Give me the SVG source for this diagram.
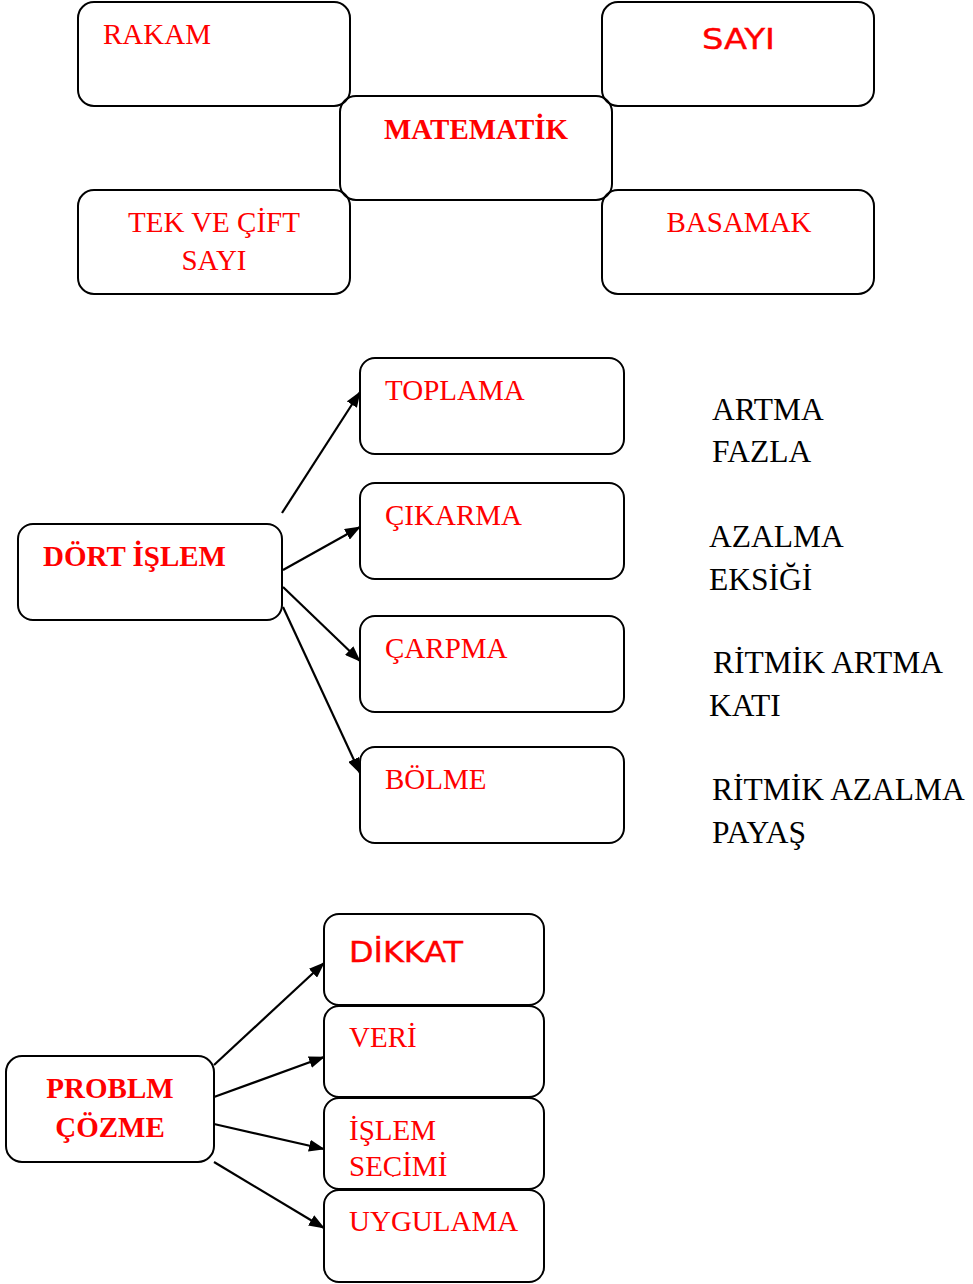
<svg xmlns="http://www.w3.org/2000/svg" width="973" height="1284" viewBox="0 0 973 1284">
<defs>
<style>
.box{fill:none;stroke:#000;stroke-width:2}
.t{font-family:"Liberation Serif","Times New Roman",serif;font-size:29px;fill:#ff0000}
.b{font-weight:bold}
.c{font-family:"DejaVu Sans","Noto Sans",sans-serif;font-size:28px;fill:#ff0000;stroke:#ff0000;stroke-width:0.4}
.k{font-family:"Liberation Serif","Times New Roman",serif;font-size:31.5px;fill:#000}
.ln{stroke:#000;stroke-width:2.2;fill:none;marker-end:url(#ah)}
</style>
<marker id="ah" viewBox="0 0 16 12" refX="15" refY="6" markerWidth="16" markerHeight="12" markerUnits="userSpaceOnUse" orient="auto">
<path d="M0,0 L16,6 L0,12 z" fill="#000"/>
</marker>
<clipPath id="clipSec"><rect x="324" y="1098" width="220" height="79"/></clipPath>
</defs>
<rect width="973" height="1284" fill="#fff"/>

<g id="rakam"><rect class="box" x="78" y="2" width="272" height="104" rx="16"/><text class="t" x="103" y="44">RAKAM</text></g>
<g id="sayi"><rect class="box" x="602" y="2" width="272" height="104" rx="16"/><text class="c" x="702" y="49" textLength="73" lengthAdjust="spacingAndGlyphs">SAYI</text></g>
<g id="tekcift"><rect class="box" x="78" y="190" width="272" height="104" rx="16"/><text class="t" x="214" y="232" text-anchor="middle">TEK VE ÇİFT</text><text class="t" x="214" y="270" text-anchor="middle">SAYI</text></g>
<g id="basamak"><rect class="box" x="602" y="190" width="272" height="104" rx="16"/><text class="t" x="739" y="232" text-anchor="middle">BASAMAK</text></g>
<g id="matematik"><rect class="box" x="340" y="96" width="272" height="104" rx="16"/><text class="t b" x="476" y="139" text-anchor="middle">MATEMATİK</text></g>

<g id="dortislem"><rect class="box" x="18" y="524" width="264" height="96" rx="15"/><text class="t b" x="43" y="566">DÖRT İŞLEM</text></g>
<g id="toplama"><rect class="box" x="360" y="358" width="264" height="96" rx="15"/><text class="t" x="385" y="400">TOPLAMA</text></g>
<g id="cikarma"><rect class="box" x="360" y="483" width="264" height="96" rx="15"/><text class="t" x="385" y="525">ÇIKARMA</text></g>
<g id="carpma"><rect class="box" x="360" y="616" width="264" height="96" rx="15"/><text class="t" x="385" y="658">ÇARPMA</text></g>
<g id="bolme"><rect class="box" x="360" y="747" width="264" height="96" rx="15"/><text class="t" x="385" y="789">BÖLME</text></g>

<g id="notes">
<text class="k" x="712" y="420">ARTMA</text>
<text class="k" x="712" y="462">FAZLA</text>
<text class="k" x="709" y="547">AZALMA</text>
<text class="k" x="709" y="590">EKSİĞİ</text>
<text class="k" x="713" y="673">RİTMİK ARTMA</text>
<text class="k" x="709" y="716">KATI</text>
<text class="k" x="712" y="800">RİTMİK AZALMA</text>
<text class="k" x="712" y="843">PAYAŞ</text>
</g>

<g id="problem"><rect class="box" x="6" y="1056" width="208" height="106" rx="16"/><text class="t b" x="110" y="1098" text-anchor="middle">PROBLM</text><text class="t b" x="110" y="1137" text-anchor="middle">ÇÖZME</text></g>
<g id="dikkat"><rect class="box" x="324" y="914" width="220" height="91" rx="15"/><text class="c" x="349" y="962" textLength="114" lengthAdjust="spacingAndGlyphs">DİKKAT</text></g>
<g id="veri"><rect class="box" x="324" y="1006" width="220" height="91" rx="15"/><text class="t" x="349" y="1047">VERİ</text></g>
<g id="islemsecimi"><rect class="box" x="324" y="1098" width="220" height="91" rx="15"/><text class="t" x="349" y="1140">İŞLEM</text><text class="t" x="349" y="1176" clip-path="url(#clipSec)">SEÇİMİ</text></g>
<g id="uygulama"><rect class="box" x="324" y="1190" width="220" height="92" rx="15"/><text class="t" x="349" y="1231">UYGULAMA</text></g>

<g id="connectors">
<line class="ln" x1="282" y1="513" x2="360" y2="392"/>
<line class="ln" x1="283" y1="570" x2="360" y2="527"/>
<line class="ln" x1="283" y1="587" x2="360" y2="661"/>
<line class="ln" x1="283" y1="607" x2="360" y2="773"/>
<line class="ln" x1="214" y1="1065" x2="324" y2="963"/>
<line class="ln" x1="214" y1="1097" x2="324" y2="1057"/>
<line class="ln" x1="214" y1="1124" x2="324" y2="1149"/>
<line class="ln" x1="214" y1="1162" x2="324" y2="1228"/>
</g>
</svg>
